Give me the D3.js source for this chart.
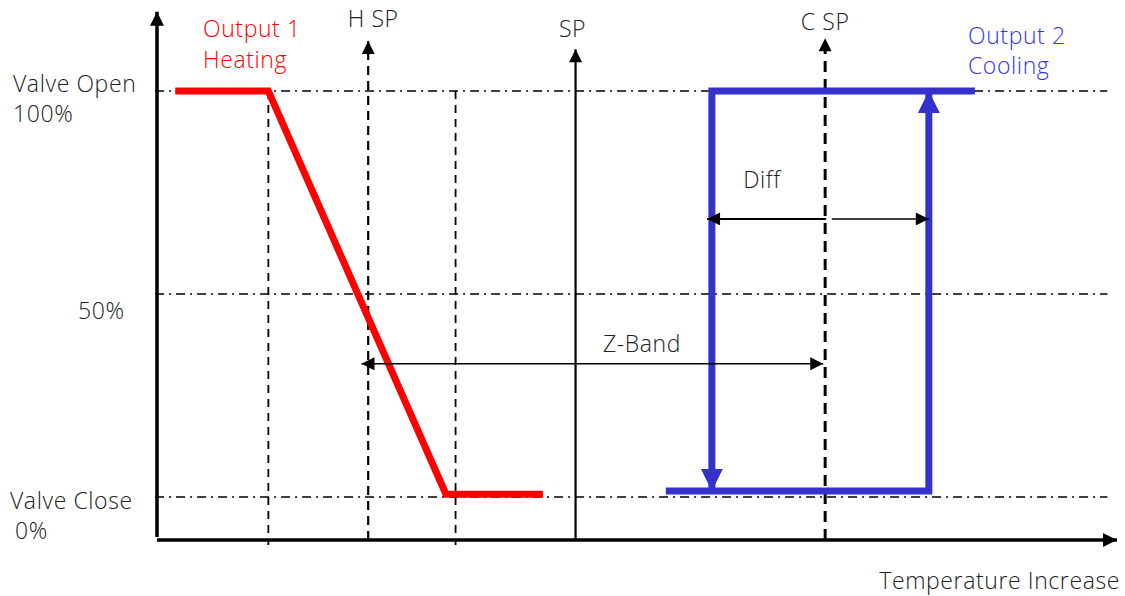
<!DOCTYPE html>
<html>
<head>
<meta charset="utf-8">
<script src="https://cdn.jsdelivr.net/npm/d3@7"></script>
<style>
  body { margin: 0; background: #fff; }
  text { font-family: "Open Sans", "Noto Sans", sans-serif; font-weight: 300; font-size: 23px; letter-spacing: 0.6px; fill: #222; }
</style>
</head>
<body>
<svg width="1125" height="596"></svg>
<script>
// temperature axis is 0..100 (arbitrary units), valve axis is 0..100 %
var heatT = [1.9, 11.6, 30.1, 40.2];
var heatV = [100, 100, 0.7, 0.7];

var coolDownT = [85.2, 57.8, 57.8];
var coolDownV = [100, 100, 1.5];
var coolUpT = [53.0, 80.4, 80.4];
var coolUpV = [1.5, 1.5, 100];

var levels = [0, 50, 100];
var levelLabels = [["Valve Close", "0%"], ["50%"], ["Valve Open", "100%"]];

var guideT = [11.6, 31.1];
var setpointT = [22.0, 43.6, 69.6];
var setpointNames = ["H SP", "SP", "C SP"];
var setpointTop = [112.3, 110.3, 113];

var zBand = [21.3, 69.4];
var zBandV = 32.8;
var diffT = [57.3, 69.7, 70.3, 80.4];
var diffV = 68.5;

var x = d3.scaleLinear().domain([0, 100]).range([157, 1117]);
var y = d3.scaleLinear().domain([0, 100]).range([497, 91]);
var yBase = -10.6, yTop = 119.5;

var svg = d3.select("svg");
var defs = svg.append("defs");

function marker(id, color, w, h) {
    defs.append("marker")
        .attr("id", id)
        .attr("markerUnits", "userSpaceOnUse")
        .attr("viewBox", "0 0 10 10")
        .attr("refX", 10).attr("refY", 5)
        .attr("markerWidth", w).attr("markerHeight", h)
        .attr("orient", "auto-start-reverse")
        .append("path")
        .attr("d", "M0,0L10,5L0,10Z")
        .attr("fill", color);
}
marker("arrowK", "#000", 15, 14);
marker("arrowS", "#000", 16, 13);
marker("arrowB", "#3333cc", 22, 23);

// dash-dot level lines
svg.selectAll(".level").data(levels).enter().append("line")
    .attr("x1", x(-0.2)).attr("x2", x(99))
    .attr("y1", function(d) { return y(d); }).attr("y2", function(d) { return y(d); })
    .attr("stroke", "#000").attr("stroke-width", 1.3)
    .attr("stroke-dasharray", "9,5,2,5");

// vertical guide dashes
svg.selectAll(".guide").data(guideT).enter().append("line")
    .attr("x1", function(d) { return x(d); }).attr("x2", function(d) { return x(d); })
    .attr("y1", y(100)).attr("y2", y(yBase - 1.2))
    .attr("stroke", "#000").attr("stroke-width", 1.8)
    .attr("stroke-dasharray", "8,6");

// set point lines
svg.selectAll(".sp").data(setpointT).enter().append("line")
    .attr("x1", function(d) { return x(d); }).attr("x2", function(d) { return x(d); })
    .attr("y1", y(yBase))
    .attr("y2", function(d, i) { return y(setpointTop[i]); })
    .attr("stroke", "#000")
    .attr("stroke-width", function(d, i) { return i === 2 ? 3 : 2.2; })
    .attr("stroke-dasharray", function(d, i) { return i === 1 ? null : (i === 2 ? "11,7" : "9,6"); })
    .attr("marker-end", "url(#arrowS)");

svg.selectAll(".spLabel").data(setpointNames).enter().append("text")
    .attr("x", function(d, i) { return x(setpointT[i]) + [5, -3, 0][i]; })
    .attr("y", function(d, i) { return [27, 37, 30][i]; })
    .attr("text-anchor", "middle")
    .text(function(d) { return d; });

// axes
svg.append("line")
    .attr("x1", x(0)).attr("x2", x(0))
    .attr("y1", y(yBase) - 3).attr("y2", y(yTop))
    .attr("stroke", "#000").attr("stroke-width", 3.5)
    .attr("marker-end", "url(#arrowK)");
svg.append("line")
    .attr("x1", x(0)).attr("x2", x(100))
    .attr("y1", y(yBase)).attr("y2", y(yBase))
    .attr("stroke", "#000").attr("stroke-width", 3.5)
    .attr("marker-end", "url(#arrowK)");

// heating output
var line = d3.line()
    .x(function(d) { return x(d[0]); })
    .y(function(d) { return y(d[1]); });

svg.append("path")
    .attr("d", line(d3.zip(heatT, heatV)))
    .attr("fill", "none").attr("stroke", "#ff0000").attr("stroke-width", 7);

// cooling output
svg.append("path")
    .attr("d", line(d3.zip(coolDownT, coolDownV)))
    .attr("fill", "none").attr("stroke", "#3333cc").attr("stroke-width", 7)
    .attr("marker-end", "url(#arrowB)");
svg.append("path")
    .attr("d", line(d3.zip(coolUpT, coolUpV)))
    .attr("fill", "none").attr("stroke", "#3333cc").attr("stroke-width", 7)
    .attr("marker-end", "url(#arrowB)");

// Z-Band and Diff arrows
svg.append("line")
    .attr("x1", x(zBand[0])).attr("x2", x(zBand[1]))
    .attr("y1", y(zBandV)).attr("y2", y(zBandV))
    .attr("stroke", "#000").attr("stroke-width", 1.5)
    .attr("marker-start", "url(#arrowS)").attr("marker-end", "url(#arrowS)");
svg.append("text").attr("x", 642).attr("y", 352)
    .attr("text-anchor", "middle").text("Z-Band");

svg.append("line")
    .attr("x1", x(diffT[1])).attr("x2", x(diffT[0]))
    .attr("y1", y(diffV)).attr("y2", y(diffV))
    .attr("stroke", "#000").attr("stroke-width", 2)
    .attr("marker-end", "url(#arrowS)");
svg.append("line")
    .attr("x1", x(diffT[2])).attr("x2", x(diffT[3]))
    .attr("y1", y(diffV)).attr("y2", y(diffV))
    .attr("stroke", "#000").attr("stroke-width", 1.5)
    .attr("marker-end", "url(#arrowS)");
svg.append("text").attr("x", 762).attr("y", 188)
    .attr("text-anchor", "middle").text("Diff");

// level labels
var levelPos = [[10, 509, 15, 539], [78, 319], [13, 92, 13, 122]];
levelLabels.forEach(function(lines, i) {
    lines.forEach(function(s, j) {
        svg.append("text")
            .attr("x", levelPos[i][j * 2]).attr("y", levelPos[i][j * 2 + 1])
            .text(s);
    });
});

// output labels
svg.append("text").attr("x", 203).attr("y", 37).style("fill", "#ff0000").text("Output 1");
svg.append("text").attr("x", 203).attr("y", 68).style("fill", "#ff0000").text("Heating");
svg.append("text").attr("x", 968).attr("y", 44).style("fill", "#3333ee").text("Output 2");
svg.append("text").attr("x", 968).attr("y", 74).style("fill", "#3333ee").text("Cooling");

svg.append("text").attr("x", 1120).attr("y", 589).attr("text-anchor", "end")
    .text("Temperature Increase");
</script>
</body>
</html>
